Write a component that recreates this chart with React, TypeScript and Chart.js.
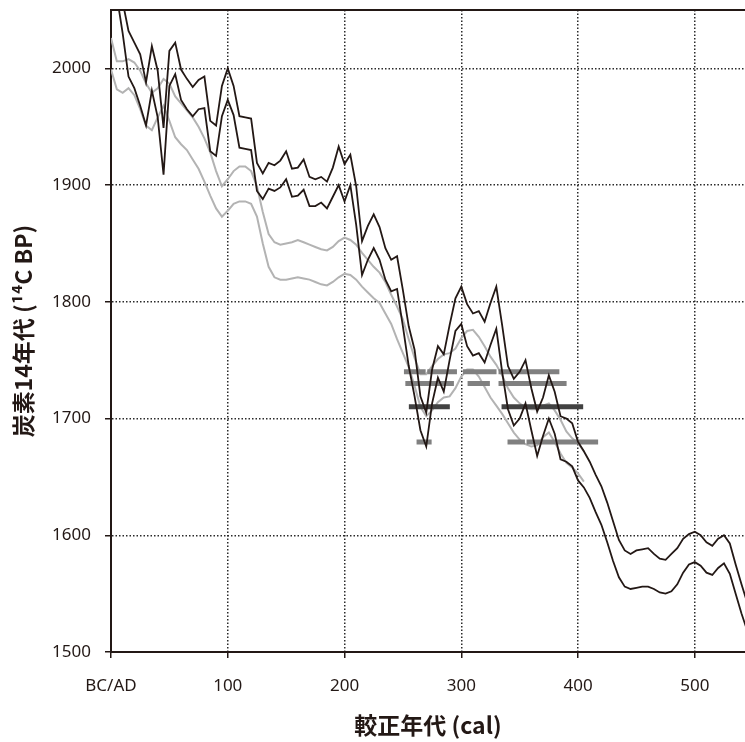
import { useEffect, useRef } from "react";
import { Chart, registerables } from "chart.js";

Chart.register(...registerables);

// calibrated years (cal AD), 5-year steps
const YEARS = [
  0, 5, 10, 15, 20, 25, 30, 35, 40, 45,
  50, 55, 60, 65, 70, 75, 80, 85, 90, 95,
  100, 105, 110, 115, 120, 125, 130, 135, 140, 145,
  150, 155, 160, 165, 170, 175, 180, 185, 190, 195,
  200, 205, 210, 215, 220, 225, 230, 235, 240, 245,
  250, 255, 260, 265, 270, 275, 280, 285, 290, 295,
  300, 305, 310, 315, 320, 325, 330, 335, 340, 345,
  350, 355, 360, 365, 370, 375, 380, 385, 390, 395,
  400, 405, 410, 415, 420, 425, 430, 435, 440, 445,
  450, 455, 460, 465, 470, 475, 480, 485, 490, 495,
  500, 505, 510, 515, 520, 525, 530, 535, 540, 545,
];

// black curve, upper bound (14C BP)
const BLACK_UPPER = [
  2095, 2075, 2057, 2032, 2022, 2012, 1988, 2019, 1998, 1949,
  2015, 2022, 1999, 1991, 1984, 1990, 1993, 1955, 1951, 1985,
  2000, 1985, 1959, 1958, 1957, 1919, 1910, 1919, 1917, 1921,
  1929, 1914, 1915, 1922, 1907, 1905, 1907, 1903, 1915, 1933,
  1918, 1926, 1899, 1852, 1865, 1875, 1864, 1846, 1836, 1839,
  1810, 1779, 1759, 1719, 1705, 1742, 1762, 1755, 1780, 1803,
  1813, 1798, 1790, 1792, 1783, 1799, 1813, 1780, 1745, 1734,
  1740, 1750, 1726, 1706, 1718, 1737, 1723, 1702, 1700, 1696,
  1680, 1672, 1663, 1652, 1642, 1628, 1612, 1596, 1587, 1584,
  1587, 1588, 1589, 1584, 1580, 1579, 1584, 1589, 1597, 1601,
  1603, 1600, 1594, 1591, 1597, 1600, 1593, 1575, 1558, 1542,
];

// black curve, lower bound (14C BP)
const BLACK_LOWER = [
  2085, 2062, 2030, 1993, 1983, 1968, 1951, 1981, 1958, 1909,
  1985, 1995, 1973, 1965, 1959, 1965, 1966, 1929, 1925, 1959,
  1973, 1960, 1932, 1931, 1930, 1895, 1888, 1897, 1895, 1898,
  1905, 1890, 1891, 1896, 1882, 1882, 1885, 1880, 1890, 1900,
  1886, 1900, 1866, 1823, 1836, 1846, 1836, 1819, 1809, 1811,
  1779, 1745, 1719, 1690, 1676, 1713, 1735, 1723, 1750, 1775,
  1781, 1762, 1754, 1756, 1748, 1763, 1777, 1740, 1708, 1694,
  1700, 1713, 1690, 1668, 1685, 1700, 1687, 1665, 1663, 1659,
  1647, 1641, 1632, 1620, 1609, 1594, 1578, 1564, 1556, 1554,
  1555, 1556, 1556, 1554, 1551, 1550, 1552, 1558, 1568, 1575,
  1577, 1574, 1568, 1566, 1572, 1576, 1567, 1550, 1533, 1518,
];

// gray curve years
const GRAY_YEARS = [
  0, 5, 10, 15, 20, 25, 30, 35, 40, 45,
  50, 55, 60, 65, 70, 75, 80, 85, 90, 95,
  100, 105, 110, 115, 120, 125, 130, 135, 140, 145,
  150, 155, 160, 165, 170, 175, 180, 185, 190, 195,
  200, 205, 210, 215, 220, 225, 230, 235, 240, 245,
  250, 255, 260, 265, 270, 275, 280, 285, 290, 295,
  300, 305, 310, 315, 320, 325, 330, 335, 340, 345,
  350, 355, 360, 365, 370, 375, 380, 385, 390, 395,
  400, 405,
];

const GRAY_UPPER = [
  2026, 2006, 2006, 2008, 2005, 1998, 1987, 1979, 1983, 1991,
  1987, 1976, 1970, 1964, 1958, 1950, 1940, 1928, 1912, 1899,
  1905, 1912, 1916, 1916, 1912, 1899, 1877, 1858, 1851, 1849,
  1850, 1851, 1853, 1851, 1849, 1847, 1845, 1844, 1847, 1852,
  1855, 1853, 1849, 1842, 1836, 1830, 1825, 1817, 1806, 1796,
  1785, 1768, 1752, 1738, 1738, 1745, 1751, 1755, 1756, 1760,
  1769, 1775, 1776, 1770, 1762, 1753, 1746, 1737, 1726, 1718,
  1713, 1709, 1708, 1708, 1711, 1713, 1707, 1699, 1689, 1683,
  1679, 1672,
];

const GRAY_LOWER = [
  1999, 1982, 1979, 1983, 1977, 1965, 1951, 1947, 1958, 1968,
  1955, 1941, 1935, 1930, 1922, 1914, 1903, 1891, 1880, 1873,
  1878, 1884, 1886, 1886, 1884, 1873, 1850, 1830, 1821, 1819,
  1819, 1820, 1821, 1820, 1819, 1817, 1815, 1814, 1817, 1821,
  1824, 1823, 1819, 1813, 1808, 1803, 1799, 1790, 1781, 1768,
  1756, 1744, 1728, 1710, 1702, 1707, 1714, 1718, 1719, 1726,
  1736, 1742, 1742, 1736, 1727, 1718, 1711, 1704, 1696, 1688,
  1682, 1678, 1676, 1677, 1684, 1688, 1680, 1670, 1662, 1658,
  1653, 1646,
];

// measured 14C ages (levels) and their calibrated ranges
const BAR_LEVELS = [1740, 1730, 1710, 1680];
const BAR_RANGES_A = [[250.9, 269.5], [270.9, 296.3], [301.5, 330.2], [331.9, 384.0]];
const BAR_RANGES_B = [[252.1, 293.7], [305.4, 324.5], [331.9, 390.2]];
const BAR_RANGES_C = [[255.1, 290.2], [334.5, 404.4]];
const BAR_RANGES_D = [[261.7, 274.6], [339.6, 354.5], [355.9, 417.2]];

const X_TICKS = [0, 100, 200, 300, 400, 500];
const X_TICK_LABELS = ["BC/AD", "100", "200", "300", "400", "500"];
const Y_TICKS = [1500, 1600, 1700, 1800, 1900, 2000];

const INK = "#231815";
const GRAY_LINE = "#b3b3b3";
const BAR_MID = "#808080";
const BAR_DARK = "#424242";

function toPoints(xs: number[], ys: number[]) {
  return xs.map((x, i) => ({ x, y: ys[i] }));
}

function barPoints(level: number, ranges: number[][]) {
  const out: { x: number; y: number | null }[] = [];
  ranges.forEach(([a, b]) => {
    out.push({ x: a, y: level }, { x: b, y: level }, { x: b, y: null });
  });
  return out;
}

const topBorder = {
  id: "topBorder",
  afterDraw(chart: any) {
    const { ctx, chartArea } = chart;
    ctx.save();
    ctx.strokeStyle = INK;
    ctx.lineWidth = 2;
    ctx.beginPath();
    ctx.moveTo(chartArea.left, chartArea.top);
    ctx.lineTo(chartArea.right, chartArea.top);
    ctx.stroke();
    ctx.restore();
  },
};

export default function App() {
  const ref = useRef<HTMLCanvasElement | null>(null);

  useEffect(() => {
    document.body.style.margin = "0";
    if (!ref.current) return;
    const lineBase = { pointRadius: 0, fill: false, tension: 0 };
    const barBase = {
      pointRadius: 0,
      fill: false,
      borderWidth: 5,
      borderCapStyle: "butt",
      spanGaps: false,
    };
    const tickFont = { family: "'Noto Sans', 'Open Sans', sans-serif", size: 17 };
    const titleFont = {
      family: "'Noto Sans CJK JP', 'Noto Sans', sans-serif",
      size: 23,
      weight: "bold",
    };
    const gridOpts = {
      color: "#2a2a2a",
      lineWidth: 1.5,
      tickLength: 6,
      tickColor: INK,
      tickWidth: 1.5,
      tickBorderDash: [],
    };
    const chart = new Chart(ref.current, {
      type: "line",
      data: {
        datasets: [
          { ...lineBase, data: toPoints(YEARS, BLACK_UPPER), borderColor: INK, borderWidth: 1.8, order: 0 },
          { ...lineBase, data: toPoints(YEARS, BLACK_LOWER), borderColor: INK, borderWidth: 1.8, order: 0 },
          { ...barBase, data: barPoints(BAR_LEVELS[0], BAR_RANGES_A), borderColor: BAR_MID, order: 1 },
          { ...barBase, data: barPoints(BAR_LEVELS[1], BAR_RANGES_B), borderColor: BAR_MID, order: 1 },
          { ...barBase, data: barPoints(BAR_LEVELS[2], BAR_RANGES_C), borderColor: BAR_DARK, order: 1 },
          { ...barBase, data: barPoints(BAR_LEVELS[3], BAR_RANGES_D), borderColor: BAR_MID, order: 1 },
          { ...lineBase, data: toPoints(GRAY_YEARS, GRAY_UPPER), borderColor: GRAY_LINE, borderWidth: 2, order: 2 },
          { ...lineBase, data: toPoints(GRAY_YEARS, GRAY_LOWER), borderColor: GRAY_LINE, borderWidth: 2, order: 2 },
        ] as any,
      },
      options: {
        animation: false,
        responsive: false,
        devicePixelRatio: 1,
        layout: { padding: { top: 10, left: 0, right: 0, bottom: 0 } },
        plugins: { legend: { display: false }, tooltip: { enabled: false } },
        scales: {
          x: {
            type: "linear",
            min: 0,
            max: 543,
            afterBuildTicks: (s: any) => {
              s.ticks = X_TICKS.map((v) => ({ value: v }));
            },
            afterFit: (s: any) => {
              s.height = 90;
              s.paddingLeft = 0;
              s.paddingRight = 0;
            },
            ticks: {
              font: tickFont,
              color: INK,
              padding: 18,
              maxRotation: 0,
              callback: (v: any) => {
                const i = X_TICKS.indexOf(Number(v));
                return i >= 0 ? X_TICK_LABELS[i] : "";
              },
            },
            grid: gridOpts,
            border: { display: true, color: INK, width: 2, dash: [1.5, 2] },
            title: {
              display: true,
              text: "較正年代 (cal)",
              font: titleFont,
              color: INK,
              padding: { top: 0, bottom: 3 },
            },
          },
          y: {
            type: "linear",
            min: 1500,
            max: 2050,
            afterBuildTicks: (s: any) => {
              s.ticks = Y_TICKS.map((v) => ({ value: v }));
            },
            afterFit: (s: any) => {
              s.width = 111;
              s.paddingTop = 0;
              s.paddingBottom = 0;
            },
            ticks: {
              font: tickFont,
              color: INK,
              padding: 14,
              callback: (v: any) => String(v),
            },
            grid: gridOpts,
            border: { display: true, color: INK, width: 2, dash: [1.5, 2] },
            title: {
              display: true,
              text: "炭素14年代 (¹⁴C BP)",
              font: titleFont,
              color: INK,
              padding: { top: 9, bottom: 0 },
            },
          },
        },
      } as any,
      plugins: [topBorder],
    });
    return () => chart.destroy();
  }, []);

  return (
    <div style={{ width: 745, height: 742 }}>
      <canvas ref={ref} width={745} height={742} style={{ display: "block" }} />
    </div>
  );
}
